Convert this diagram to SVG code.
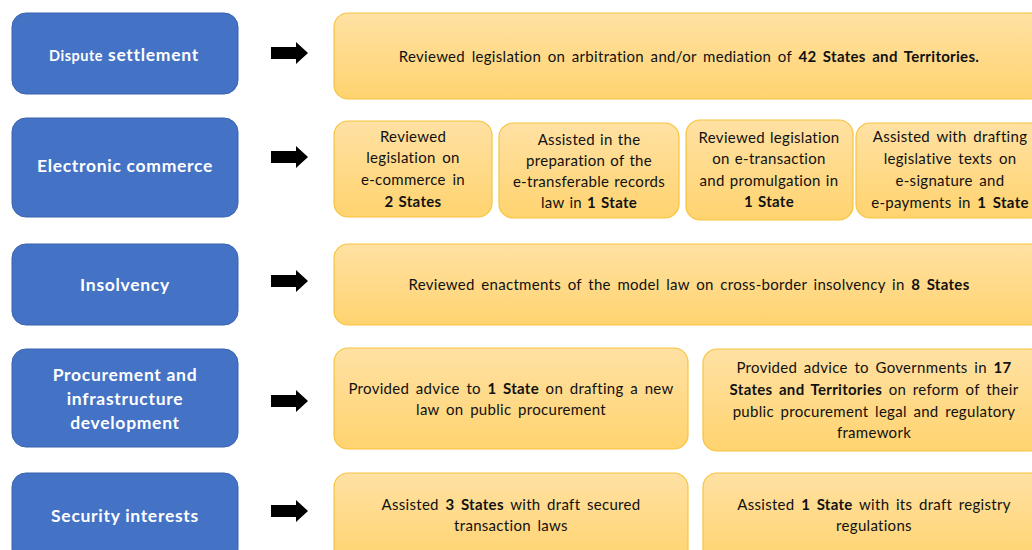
<svg xmlns="http://www.w3.org/2000/svg" width="1032" height="550" viewBox="0 0 1032 550">
<defs>
<linearGradient id="yg" x1="0" y1="0" x2="0" y2="1">
<stop offset="0" stop-color="#FFE1A3"/>
<stop offset="1" stop-color="#FFD36F"/>
</linearGradient>
<path id="arr" d="M271,-6 H296 V-11 L308,0 L296,11 V6 H271 Z"/>
</defs>
<style>
.blue{fill:#4472C4;stroke:#3A63AE;stroke-width:1}
.yel{fill:url(#yg);stroke:#F7C43E;stroke-width:1.2}
.bt{font-family:Lato,"Open Sans",sans-serif;font-weight:bold;font-size:17.5px;letter-spacing:0.7px;fill:#FFFFFF;text-anchor:middle}
.t{font-family:Lato,"Open Sans",sans-serif;font-size:15px;letter-spacing:0.3px;word-spacing:2.5px;fill:#111111;text-anchor:middle}
.n{word-spacing:1px}
.b{font-weight:bold}
.arrow{fill:#000000}
</style>
<rect width="1032" height="550" fill="#FFFFFF"/>

<g id="connectors">
<use href="#arr" class="arrow" transform="translate(0,53)"/>
<use href="#arr" class="arrow" transform="translate(0,157)"/>
<use href="#arr" class="arrow" transform="translate(0,281)"/>
<use href="#arr" class="arrow" transform="translate(0,401)"/>
<use href="#arr" class="arrow" transform="translate(0,511)"/>
</g>

<g id="dispute">
<rect class="blue" x="12" y="13" width="226" height="81" rx="14"/>
<text class="bt" x="124" y="61"><tspan font-size="14.5px" letter-spacing="0.5px">Dispute</tspan> settlement</text>
</g>
<g id="dispute-detail">
<rect class="yel" x="334" y="13" width="710" height="86" rx="14"/>
<text class="t" x="689" y="62" word-spacing="3px">Reviewed legislation on arbitration and/or mediation of <tspan class="b">42 States and Territories.</tspan></text>
</g>

<g id="ecommerce">
<rect class="blue" x="12" y="118" width="226" height="99" rx="14"/>
<text class="bt" x="125" y="172">Electronic commerce</text>
</g>
<g id="ecommerce-1">
<rect class="yel" x="334" y="121" width="158" height="96" rx="14"/>
<text class="t n" x="413" y="142">Reviewed</text>
<text class="t" x="413" y="163">legislation on</text>
<text class="t" x="413" y="185">e-commerce in</text>
<text class="t b n" x="413" y="207">2 States</text>
</g>
<g id="ecommerce-2">
<rect class="yel" x="499" y="123" width="180" height="95" rx="14"/>
<text class="t n" x="589" y="145">Assisted in the</text>
<text class="t n" x="589" y="166">preparation of the</text>
<text class="t n" x="589" y="187">e-transferable records</text>
<text class="t n" x="589" y="208">law in <tspan class="b">1 State</tspan></text>
</g>
<g id="ecommerce-3">
<rect class="yel" x="686" y="120" width="167" height="100" rx="14"/>
<text class="t n" x="769" y="143">Reviewed legislation</text>
<text class="t n" x="769" y="164">on e-transaction</text>
<text class="t n" x="769" y="186">and promulgation in</text>
<text class="t b n" x="769" y="207">1 State</text>
</g>
<g id="ecommerce-4">
<rect class="yel" x="856" y="123" width="188" height="95" rx="14"/>
<text class="t" x="950" y="142">Assisted with drafting</text>
<text class="t" x="950" y="164">legislative texts on</text>
<text class="t" x="950" y="186">e-signature and</text>
<text class="t" x="950" y="208">e-payments in <tspan class="b">1 State</tspan></text>
</g>

<g id="insolvency">
<rect class="blue" x="12" y="244" width="226" height="81" rx="14"/>
<text class="bt" x="125" y="291">Insolvency</text>
</g>
<g id="insolvency-detail">
<rect class="yel" x="334" y="244" width="710" height="81" rx="14"/>
<text class="t" x="689" y="290" word-spacing="3px">Reviewed enactments of the model law on cross-border insolvency in <tspan class="b">8 States</tspan></text>
</g>

<g id="procurement">
<rect class="blue" x="12" y="349" width="226" height="98" rx="14"/>
<text class="bt" x="125" y="381">Procurement and</text>
<text class="bt" x="125" y="405">infrastructure</text>
<text class="bt" x="125" y="429">development</text>
</g>
<g id="procurement-1">
<rect class="yel" x="334" y="348" width="354" height="101" rx="14"/>
<text class="t" x="511" y="394">Provided advice to <tspan class="b">1 State</tspan> on drafting a new</text>
<text class="t" x="511" y="415">law on public procurement</text>
</g>
<g id="procurement-2">
<rect class="yel" x="703" y="349" width="341" height="102" rx="14"/>
<text class="t" x="874" y="373">Provided advice to Governments in <tspan class="b">17</tspan></text>
<text class="t" x="874" y="395"><tspan class="b">States and Territories</tspan> on reform of their</text>
<text class="t" x="874" y="417">public procurement legal and regulatory</text>
<text class="t" x="874" y="438">framework</text>
</g>

<g id="security">
<rect class="blue" x="12" y="473" width="226" height="90" rx="14"/>
<text class="bt" x="125" y="522">Security interests</text>
</g>
<g id="security-1">
<rect class="yel" x="334" y="473" width="354" height="90" rx="14"/>
<text class="t" x="511" y="510">Assisted <tspan class="b">3 States</tspan> with draft secured</text>
<text class="t" x="511" y="531">transaction laws</text>
</g>
<g id="security-2">
<rect class="yel" x="703" y="473" width="341" height="90" rx="14"/>
<text class="t" x="874" y="510">Assisted <tspan class="b">1 State</tspan> with its draft registry</text>
<text class="t" x="874" y="531">regulations</text>
</g>
</svg>
